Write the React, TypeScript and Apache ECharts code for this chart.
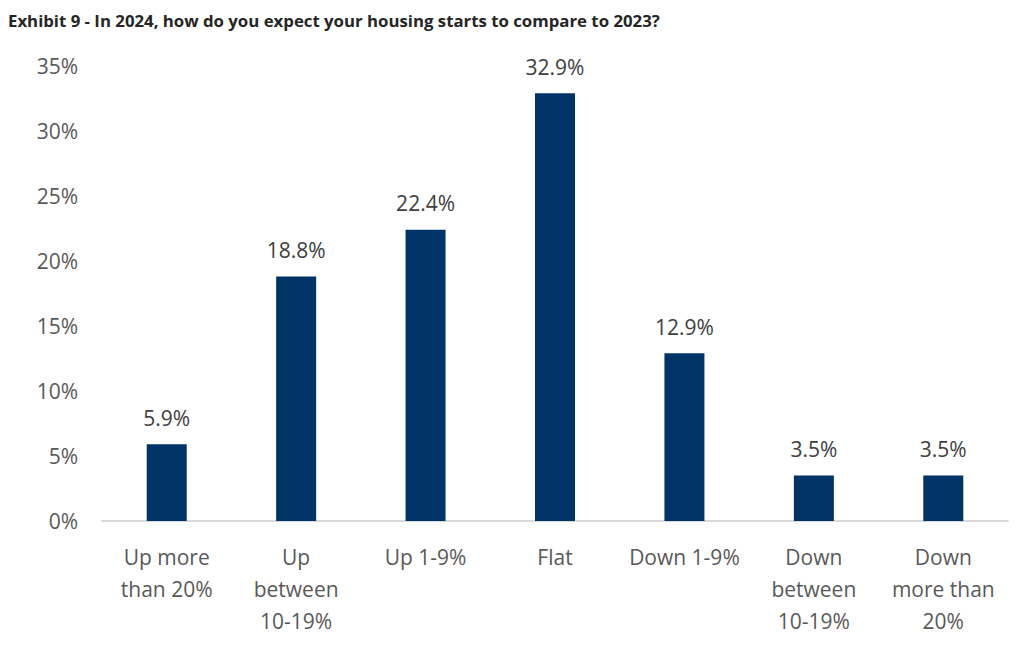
import React, { useEffect, useRef } from "react";
import * as echarts from "echarts";

const categories = [
  "Up more\nthan 20%",
  "Up\nbetween\n10-19%",
  "Up 1-9%",
  "Flat",
  "Down 1-9%",
  "Down\nbetween\n10-19%",
  "Down\nmore than\n20%",
];
const values = [5.9, 18.8, 22.4, 32.9, 12.9, 3.5, 3.5];
const title = "Exhibit 9 - In 2024, how do you expect your housing starts to compare to 2023?";

export default function App() {
  const ref = useRef<HTMLDivElement>(null);
  useEffect(() => {
    if (!ref.current) return;
    const chart = echarts.init(ref.current, undefined, { renderer: "svg" });
    const font = "'Open Sans', 'Noto Sans', sans-serif";
    chart.setOption({
      animation: false,
      title: {
        text: title,
        left: 0,
        top: 4,
        padding: 0,
        textStyle: { fontFamily: font, fontSize: 16.8, fontWeight: "bold", color: "#262626" },
      },
      grid: { left: 94, right: 12, top: 58, bottom: 133, containLabel: false },
      xAxis: {
        type: "category",
        data: categories,
        axisLine: { show: true, lineStyle: { color: "#d9d9d9", width: 2 } },
        axisTick: { show: false },
        axisLabel: {
          interval: 0,
          margin: 20,
          fontFamily: font,
          fontSize: 21,
          lineHeight: 32,
          color: "#595959",
        },
      },
      yAxis: {
        type: "value",
        min: 0,
        max: 35,
        interval: 5,
        splitLine: { show: false },
        axisLine: { show: false },
        axisTick: { show: false },
        axisLabel: {
          margin: 24,
          fontFamily: font,
          fontSize: 21,
          color: "#595959",
          formatter: (v: number) => v + "%",
        },
      },
      series: [
        {
          type: "bar",
          data: values,
          barWidth: 40,
          itemStyle: { color: "#003366" },
          label: {
            show: true,
            position: "top",
            distance: 16,
            fontFamily: font,
            fontSize: 21,
            color: "#404040",
            formatter: (p: any) => p.value.toFixed(1) + "%",
          },
        },
      ],
    });
    return () => chart.dispose();
  }, []);
  return <div ref={ref} style={{ width: 1012, height: 646 }} />;
}
